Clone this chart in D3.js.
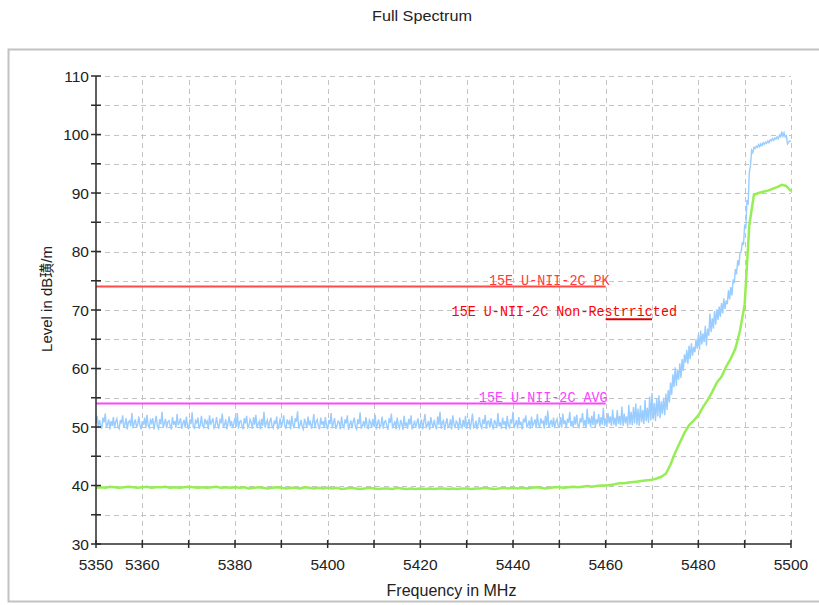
<!DOCTYPE html>
<html>
<head>
<meta charset="utf-8">
<script src="https://cdn.jsdelivr.net/npm/d3@7/dist/d3.min.js"></script>
<style>
  html, body { margin: 0; padding: 0; background: #ffffff; }
  svg { display: block; }
</style>
</head>
<body>
<svg id="chart" width="819" height="605"></svg>
<script>
// ---- Chart data ----
const chartTitle = "Full Spectrum";
const xAxisTitle = "Frequency in MHz";
const yAxisTitle = "Level in dB璜/m";

const freqMin = 5350, freqMax = 5500;
const levelMin = 30, levelMax = 110;

const xTickLabels = [5350, 5360, 5380, 5400, 5420, 5440, 5460, 5480, 5500];
const xMinorStep = 10;
const yTickLabels = [30, 40, 50, 60, 70, 80, 90, 100, 110];
const yMinorStep = 5;

// Peak trace, one reading every 0.25 MHz from 5350 MHz (20 readings per row = 5 MHz)
const peakStart = 5350, peakStep = 0.25;
const peakLevels = [
  50.6,51.9,49.8,51.2,50.3,49.7,51.6,50.8,52.3,49.9,50.5,51.3,49.6,51.0,50.2,51.7,49.8,50.9,51.4,50.0,
  49.7,51.2,50.6,52.0,49.9,50.4,51.5,49.6,50.9,51.1,50.1,52.4,49.8,50.7,51.3,49.9,50.5,51.8,50.2,49.6,
  51.0,50.4,51.6,49.8,52.1,50.3,49.9,51.2,50.7,51.5,49.6,50.8,51.9,50.1,49.7,51.3,50.5,52.6,49.9,50.6,
  51.4,49.8,50.9,51.1,50.2,49.6,51.7,50.4,51.0,49.9,52.2,50.3,50.8,51.5,49.7,50.6,51.2,49.9,51.8,50.1,
  49.6,51.3,50.5,52.5,50.0,49.8,51.1,50.7,51.6,49.7,50.3,51.9,50.2,49.9,51.4,50.6,51.0,49.6,52.0,50.4,
  50.9,51.5,49.8,50.2,51.7,50.5,49.7,51.2,50.8,52.3,49.9,50.4,51.3,49.6,50.7,51.8,50.1,51.0,49.8,50.6,
  51.6,50.0,52.4,49.7,50.9,51.1,50.3,49.6,51.5,50.6,51.9,49.9,50.2,51.3,50.8,49.7,51.7,50.4,52.1,49.8,
  50.5,51.0,49.6,51.4,50.2,52.6,49.9,50.7,51.2,49.7,50.9,51.6,50.1,49.8,51.1,50.5,51.8,49.6,50.3,51.5,
  49.9,50.8,52.0,50.2,49.7,51.3,50.6,51.0,49.6,51.9,50.4,49.8,51.5,50.9,52.7,49.7,50.3,51.2,50.0,49.6,
  51.4,50.7,49.9,51.8,50.3,51.1,49.7,50.6,52.2,49.8,50.9,51.3,50.1,49.6,51.6,50.4,51.0,49.9,51.7,50.2,
  49.6,51.2,50.5,52.4,49.8,50.7,51.5,49.7,50.2,51.0,50.8,49.6,51.8,50.3,49.9,51.3,50.6,52.0,49.5,50.4,
  51.1,49.8,50.9,51.6,50.0,49.6,51.3,50.5,52.5,49.7,50.2,51.0,49.9,51.7,50.4,49.6,51.2,50.8,49.8,51.4,
  50.1,52.1,49.6,50.6,51.3,49.9,50.3,51.8,49.7,50.9,51.1,50.2,49.5,51.5,50.7,52.3,49.8,50.4,51.0,49.6,
  51.6,50.3,49.8,51.2,50.6,49.5,51.9,50.1,50.8,49.7,51.4,50.4,52.0,49.6,50.2,51.1,49.9,50.7,51.5,49.7,
  50.5,51.3,49.6,50.9,52.2,49.8,50.3,51.0,49.5,51.7,50.6,49.9,51.2,50.1,49.6,51.8,50.4,52.6,49.7,50.8,
  51.1,49.5,50.6,51.5,49.9,50.2,51.3,49.6,52.0,50.5,49.8,51.0,50.7,49.5,51.6,50.3,49.9,51.2,50.0,51.9,
  49.7,50.4,51.4,49.6,50.8,52.3,49.9,50.1,51.1,49.6,50.6,51.7,50.2,49.8,51.3,50.5,52.1,49.7,50.9,51.0,
  49.9,51.5,50.3,49.6,51.2,50.7,49.8,52.4,50.1,50.8,49.7,51.6,50.4,51.0,49.6,51.9,50.2,49.9,51.3,50.6,
  52.6,49.8,50.5,51.2,49.7,51.7,50.3,50.9,49.6,51.4,50.8,52.0,49.9,50.4,51.1,49.7,51.8,50.2,50.6,51.3,
  49.8,52.2,50.4,49.9,51.5,50.7,51.0,49.7,51.9,50.3,52.8,49.9,50.6,51.2,50.0,51.6,49.8,50.9,51.4,50.2,
  50.0,51.7,49.9,52.3,50.5,51.1,49.8,51.4,50.7,52.6,50.1,51.0,49.9,51.8,50.4,52.1,50.2,49.9,51.5,50.8,
  52.4,50.1,51.2,49.8,53.1,50.5,51.6,50.0,51.9,50.3,52.7,49.9,51.3,50.6,52.2,50.1,51.7,50.4,53.3,50.2,
  51.5,50.0,52.4,50.6,51.8,50.2,53.0,50.4,51.6,50.1,52.9,50.5,51.9,50.3,53.5,50.2,52.3,50.6,51.8,50.1,
  53.8,
  50.4,52.6,50.3,53.4, 50.6,54.0,50.4,53.1, 50.2,53.7,50.8,52.9, 50.5,54.6,51.0,53.3,
  50.7,55.2,51.1,55.8, 51.3,54.1,51.0,54.8, 51.8,55.4,51.5,54.4, 52.2,55.0,52.0,55.7,
  52.9,56.3,54.2,57.6, 55.5,59.0,56.8,60.2, 57.0,59.8,58.1,60.9, 58.4,61.6,59.6,62.4,
  61.0,63.2,60.8,63.9, 61.6,64.3,62.2,63.7, 62.8,65.0,63.4,65.8, 63.2,66.5,64.1,66.0,
  64.5,67.3,63.9,66.8, 65.6,69.4,66.2,68.6, 66.8,69.8,67.5,70.1, 68.3,70.6,68.8,71.2,
  69.4,72.0,70.2,71.6, 71.0,73.4,71.8,73.9, 72.5,75.2,74.6,77.0, 76.1,78.5,77.6,79.8,
  79.9,81.6,81.1,84.6, 84.0,88.8,88.0,93.5, 94.6,97.3,96.9,97.8, 97.6,98.0,97.8,98.3,
  97.9,98.4,98.1,98.6, 98.3,98.7,98.5,98.9, 98.6,99.1,98.9,99.3, 99.0,99.4,99.2,99.6,
  99.3,99.9,99.6,100.5, 99.7,100.3,99.6,99.8, 98.4,98.7,98.9,98.8
];

// Average trace, one reading every 1 MHz from 5350 MHz
const avgStart = 5350, avgStep = 1;
const avgLevels = [
  39.6,39.7,39.6,39.8,39.7,39.6,39.7,39.8,39.7,39.6,
  39.7,39.8,39.6,39.7,39.7,39.8,39.6,39.7,39.6,39.7,
  39.8,39.7,39.6,39.7,39.6,39.7,39.8,39.6,39.7,39.6,
  39.7,39.6,39.7,39.5,39.6,39.7,39.6,39.5,39.6,39.7,
  39.6,39.5,39.6,39.6,39.5,39.7,39.6,39.5,39.6,39.5,
  39.6,39.5,39.6,39.4,39.5,39.6,39.5,39.4,39.5,39.6,
  39.5,39.4,39.5,39.5,39.4,39.6,39.5,39.4,39.5,39.4,
  39.5,39.4,39.5,39.4,39.5,39.5,39.4,39.5,39.4,39.5,
  39.5,39.4,39.5,39.5,39.6,39.5,39.4,39.5,39.6,39.5,
  39.6,39.5,39.6,39.5,39.6,39.7,39.6,39.5,39.6,39.7,
  39.7,39.6,39.7,39.8,39.7,39.8,39.9,39.8,39.9,40.0,
  40.0,40.1,40.2,40.4,40.4,40.5,40.6,40.7,40.8,40.9,
  41.0,41.2,41.5,42.0,43.6,45.6,47.3,49.0,50.3,51.1,
  52.0,53.4,54.6,56.0,57.6,58.6,60.3,61.7,63.4,66.5,
  71.0,84.5,89.7,90.0,90.2,90.4,90.7,91.0,91.4,91.2,
  90.3
];

// Limit lines
const limitNames  = ["15E U-NII-2C PK", "15E U-NII-2C AVG", "15E U-NII-2C Non-Restrricted"];
const limitLevels = [74, 54, 68.4];
const limitFrom   = [5350, 5350, 5460];
const limitTo     = [5460, 5460, 5470];

// ---- Styles ----
const limitLineColors = ["#ff4a4a", "#ff45ff", "#e00000"];
const limitTextColors = ["#ff3b3b", "#ff40ff", "#ff0000"];
const peakColor = "#99ccff";
const avgColor  = "#96ee55";
const gridColor = "#c4c4c4";
const axisColor = "#2b2b2b";
const textColor = "#222222";

const svg = d3.select("#chart");

// Outer frame
svg.append("rect")
  .attr("x", 8.5).attr("y", 49.5)
  .attr("width", 830).attr("height", 552)
  .attr("fill", "#ffffff")
  .attr("stroke", "#c2c2c2").attr("stroke-width", 2);

// Title
svg.append("text")
  .attr("x", 422).attr("y", 21)
  .attr("text-anchor", "middle")
  .attr("font-family", "Liberation Sans, Arial, sans-serif")
  .attr("font-size", 15)
  .attr("textLength", 100)
  .attr("lengthAdjust", "spacingAndGlyphs")
  .attr("fill", textColor)
  .text(chartTitle);

// Scales
const x = d3.scaleLinear().domain([freqMin, freqMax]).range([96, 791]);
const y = d3.scaleLinear().domain([levelMin, levelMax]).range([544, 76]);

// Grid
const grid = svg.append("g").attr("stroke", gridColor).attr("stroke-width", 1)
  .attr("stroke-dasharray", "5,4").attr("fill", "none");
const vGrid = d3.range(freqMin + xMinorStep, freqMax + 0.001, xMinorStep);
const hGrid = d3.range(levelMin + yMinorStep, levelMax + 0.001, yMinorStep);
grid.selectAll("line.v").data(vGrid).join("line").attr("class", "v")
  .attr("x1", d => Math.round(x(d)) + 0.5).attr("x2", d => Math.round(x(d)) + 0.5)
  .attr("y1", y(levelMin)).attr("y2", y(levelMax));
grid.selectAll("line.h").data(hGrid).join("line").attr("class", "h")
  .attr("y1", d => Math.round(y(d)) + 0.5).attr("y2", d => Math.round(y(d)) + 0.5)
  .attr("x1", x(freqMin)).attr("x2", x(freqMax));

// Limit lines
const limits = limitNames.map((name, i) => ({
  name, level: limitLevels[i], from: limitFrom[i], to: limitTo[i],
  line: limitLineColors[i], text: limitTextColors[i]
}));
svg.append("g").selectAll("line").data(limits).join("line")
  .attr("x1", d => x(d.from)).attr("x2", d => x(d.to))
  .attr("y1", d => y(d.level)).attr("y2", d => y(d.level))
  .attr("stroke", d => d.line).attr("stroke-width", 2);

// Traces
const peakData = peakLevels.map((v, i) => [peakStart + i * peakStep, v]);
const avgData  = avgLevels.map((v, i) => [avgStart + i * avgStep, v]);
const line = d3.line().x(d => x(d[0])).y(d => y(d[1]));

svg.append("path").datum(avgData)
  .attr("d", line).attr("fill", "none")
  .attr("stroke", avgColor).attr("stroke-width", 2.5).attr("stroke-linejoin", "round");
svg.append("path").datum(peakData)
  .attr("d", line).attr("fill", "none")
  .attr("stroke", peakColor).attr("stroke-width", 1.4);

// Limit labels
const labelFont = "Liberation Mono, DejaVu Sans Mono, monospace";
const labelAnchor = [
  { ax: d => x(d.to) + 4, dy: -2 },
  { ax: d => x(d.to) + 2, dy: -2 },
  { ax: d => x(d.to) + 25, dy: -3 }
];
svg.append("g").selectAll("text").data(limits).join("text")
  .attr("x", (d, i) => labelAnchor[i].ax(d))
  .attr("y", (d, i) => y(d.level) + labelAnchor[i].dy)
  .attr("text-anchor", "end")
  .attr("font-family", labelFont)
  .attr("font-size", 15)
  .attr("textLength", d => d.name.length * 8.05)
  .attr("lengthAdjust", "spacingAndGlyphs")
  .attr("fill", d => d.text)
  .text(d => d.name);

// Axes
const axes = svg.append("g").attr("stroke", axisColor).attr("stroke-width", 1.5);
axes.append("line")
  .attr("x1", x(freqMin)).attr("x2", x(freqMin))
  .attr("y1", y(levelMin)).attr("y2", y(levelMax));
axes.append("line")
  .attr("x1", x(freqMin)).attr("x2", x(freqMax))
  .attr("y1", y(levelMin)).attr("y2", y(levelMin));
const yTicks = d3.range(levelMin, levelMax + 0.001, yMinorStep);
axes.selectAll("line.yt").data(yTicks).join("line").attr("class", "yt")
  .attr("x1", x(freqMin) - 5).attr("x2", x(freqMin) + 5)
  .attr("y1", d => y(d)).attr("y2", d => y(d));
const xTicks = d3.range(freqMin, freqMax + 0.001, xMinorStep);
axes.selectAll("line.xt").data(xTicks).join("line").attr("class", "xt")
  .attr("x1", d => x(d)).attr("x2", d => x(d))
  .attr("y1", y(levelMin) - 4).attr("y2", y(levelMin) + 4);

const tickFont = "Liberation Sans, Arial, sans-serif";
svg.append("g").selectAll("text").data(yTickLabels).join("text")
  .attr("x", x(freqMin) - 7).attr("y", d => y(d) + 5.5)
  .attr("text-anchor", "end")
  .attr("font-family", tickFont).attr("font-size", 15.5)
  .attr("fill", textColor)
  .text(d => d);
svg.append("g").selectAll("text").data(xTickLabels).join("text")
  .attr("x", d => x(d)).attr("y", y(levelMin) + 26)
  .attr("text-anchor", "middle")
  .attr("font-family", tickFont).attr("font-size", 15.5)
  .attr("fill", textColor)
  .text(d => d);

// Axis titles
svg.append("text")
  .attr("x", (x(freqMin) + x(freqMax)) / 2 + 8).attr("y", 596)
  .attr("text-anchor", "middle")
  .attr("font-family", tickFont).attr("font-size", 16)
  .attr("fill", textColor)
  .text(xAxisTitle);
svg.append("text")
  .attr("transform", "translate(52,299) rotate(-90)")
  .attr("text-anchor", "middle")
  .attr("font-family", tickFont + ", Noto Sans CJK SC").attr("font-size", 15)
  .attr("fill", textColor)
  .text(yAxisTitle);
</script>
</body>
</html>
